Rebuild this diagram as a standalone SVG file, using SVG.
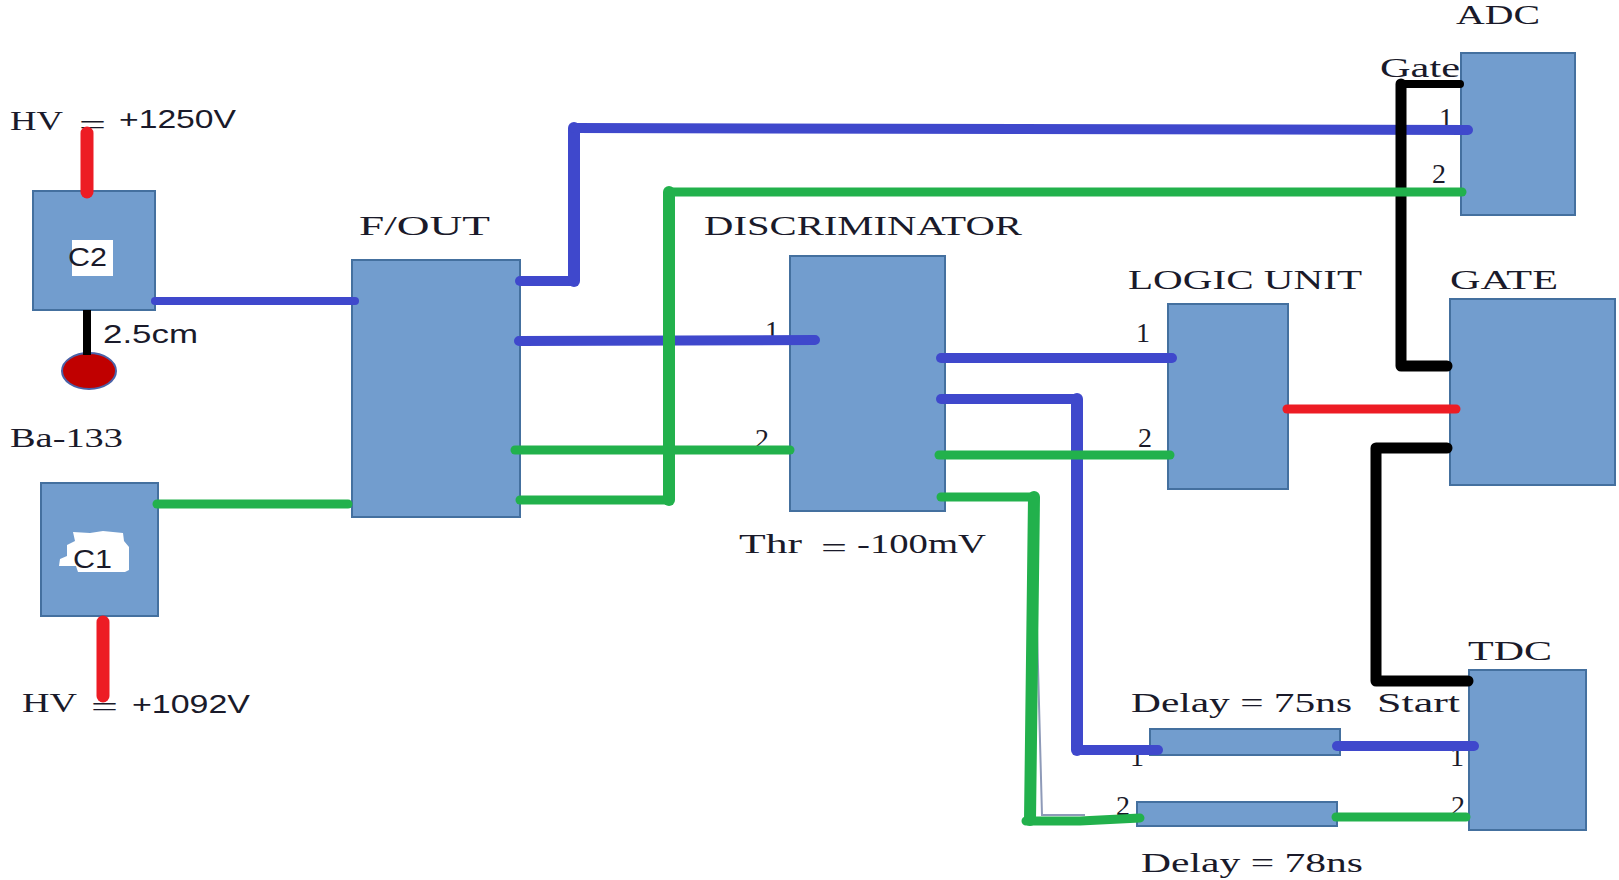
<svg xmlns="http://www.w3.org/2000/svg" width="1619" height="880" viewBox="0 0 1619 880">
<style>
.b{fill:#729DCE;stroke:#44709F;stroke-width:2}
.t{font-family:"Liberation Serif",serif;font-size:28px;fill:#1a1a2a}
.s{font-family:"Liberation Sans",sans-serif;font-size:26px;fill:#1a1a2a}
.c{fill:none;stroke-linecap:round;stroke-linejoin:round}
.blue{stroke:#3F48CC;stroke-width:10}
.green{stroke:#22B14C;stroke-width:9}
.red{stroke:#ED1C24;stroke-width:9}
.black{stroke:#000;stroke-width:11}
.v{stroke-width:12}
</style>
<rect width="1619" height="880" fill="#fff"/>
<g id="c2">
<rect class="b" x="33" y="191" width="122" height="119"/>
<rect x="72" y="240" width="41" height="36" fill="#fff"/>
<text class="s" x="68" y="266" textLength="39" lengthAdjust="spacingAndGlyphs">C2</text>
<text class="t" x="10" y="130" textLength="53" lengthAdjust="spacingAndGlyphs">HV</text>
<text class="t" x="79" y="134" textLength="27" lengthAdjust="spacingAndGlyphs">=</text>
<text class="s" x="119" y="128" textLength="117" lengthAdjust="spacingAndGlyphs">+1250V</text>
<text class="s" x="103" y="343" textLength="95" lengthAdjust="spacingAndGlyphs">2.5cm</text>
</g>
<g id="source">
<ellipse cx="89" cy="371" rx="27" ry="18" fill="#C00000" stroke="#4A62A8" stroke-width="2"/>
<text class="t" x="10" y="447" textLength="113" lengthAdjust="spacingAndGlyphs">Ba-133</text>
</g>
<g id="c1">
<rect class="b" x="41" y="483" width="117" height="133"/>
<path d="M73 532L90 533L103 531L123 533L124 541L129 547L129 570L125 572L78 572L76 566L59 566L60 559L67 556L67 545L75 541Z" fill="#fff"/>
<text class="s" x="73" y="568" textLength="39" lengthAdjust="spacingAndGlyphs">C1</text>
<text class="t" x="22" y="712" textLength="55" lengthAdjust="spacingAndGlyphs">HV</text>
<text class="t" x="91" y="716" textLength="27" lengthAdjust="spacingAndGlyphs">=</text>
<text class="s" x="132" y="713" textLength="118" lengthAdjust="spacingAndGlyphs">+1092V</text>
</g>
<g id="fout">
<rect class="b" x="352" y="260" width="168" height="257"/>
<text class="t" x="359" y="235" textLength="131" lengthAdjust="spacingAndGlyphs">F/OUT</text>
</g>
<g id="discriminator">
<rect class="b" x="790" y="256" width="155" height="255"/>
<text class="t" x="704" y="235" textLength="318" lengthAdjust="spacingAndGlyphs">DISCRIMINATOR</text>
<text class="t" x="765" y="340">1</text>
<text class="t" x="755" y="448">2</text>
<text class="t" x="739" y="553" textLength="63" lengthAdjust="spacingAndGlyphs">Thr</text>
<text class="t" x="821" y="557" textLength="26" lengthAdjust="spacingAndGlyphs">=</text>
<text class="t" x="857" y="553" textLength="129" lengthAdjust="spacingAndGlyphs">-100mV</text>
</g>
<g id="logic-unit">
<rect class="b" x="1168" y="304" width="120" height="185"/>
<text class="t" x="1136" y="342">1</text>
<text class="t" x="1138" y="447">2</text>
<text class="t" x="1128" y="289" textLength="234" lengthAdjust="spacingAndGlyphs">LOGIC UNIT</text>
</g>
<g id="gate">
<rect class="b" x="1450" y="299" width="165" height="186"/>
<text class="t" x="1450" y="289" textLength="108" lengthAdjust="spacingAndGlyphs">GATE</text>
</g>
<g id="adc">
<rect class="b" x="1461" y="53" width="114" height="162"/>
<text class="t" x="1456" y="24" textLength="84" lengthAdjust="spacingAndGlyphs">ADC</text>
<text class="t" x="1380" y="77" textLength="80" lengthAdjust="spacingAndGlyphs">Gate</text>
<text class="t" x="1439" y="127">1</text>
<text class="t" x="1432" y="183">2</text>
</g>
<g id="tdc">
<rect class="b" x="1469" y="670" width="117" height="160"/>
<text class="t" x="1468" y="660" textLength="84" lengthAdjust="spacingAndGlyphs">TDC</text>
<text class="t" x="1377" y="712" textLength="83" lengthAdjust="spacingAndGlyphs">Start</text>
<text class="t" x="1450" y="766">1</text>
<text class="t" x="1451" y="815">2</text>
</g>
<g id="delay-75">
<rect class="b" x="1150" y="729" width="190" height="26"/>
<text class="t" x="1131" y="712" textLength="221" lengthAdjust="spacingAndGlyphs">Delay = 75ns</text>
<text class="t" x="1130" y="766">1</text>
</g>
<g id="delay-78">
<rect class="b" x="1137" y="802" width="200" height="24"/>
<text class="t" x="1141" y="872" textLength="222" lengthAdjust="spacingAndGlyphs">Delay = 78ns</text>
<text class="t" x="1116" y="815">2</text>
</g>
<g id="connectors">
<path class="c red" style="stroke-width:13" d="M87 133V192"/>
<path class="c red" style="stroke-width:13" d="M103 622V696"/>
<path class="c black" style="stroke-width:8;stroke-linecap:butt" d="M87 310V355"/>
<path class="c blue" style="stroke-width:8" d="M155 301H355"/>
<path class="c green" d="M157 504H348"/>
<path class="c blue" d="M520 281H574"/>
<path class="c blue v" d="M574 281V128"/>
<path class="c blue" d="M574 128L1468 130"/>
<path class="c blue" d="M519 341L815 340"/>
<path class="c green" d="M515 450H790"/>
<path class="c black" style="stroke-width:8" d="M1460 84H1401"/>
<path class="c black" d="M1401 84V366H1447"/>
<path class="c green" d="M520 500H669"/>
<path class="c green v" d="M669 500V192"/>
<path class="c green" d="M669 192H1462"/>
<path class="c blue" d="M941 358H1172"/>
<path class="c blue" d="M941 399H1077"/>
<path class="c blue v" d="M1077 399V750"/>
<path class="c blue" d="M1077 750H1158"/>
<path class="c green" d="M939 455H1170"/>
<path d="M1037 630L1042 815H1085" fill="none" stroke="#8E9AB8" stroke-width="2"/>
<path class="c green" d="M941 497H1034"/>
<path class="c green v" d="M1034 497L1030 820"/>
<path class="c green" d="M1026 821H1080L1140 818"/>
<path class="c red" d="M1287 409H1456"/>
<path class="c black" d="M1447 448H1376V681H1468"/>
<path class="c blue" d="M1337 746H1474"/>
<path class="c green" d="M1336 817H1466"/>
</g>
</svg>
